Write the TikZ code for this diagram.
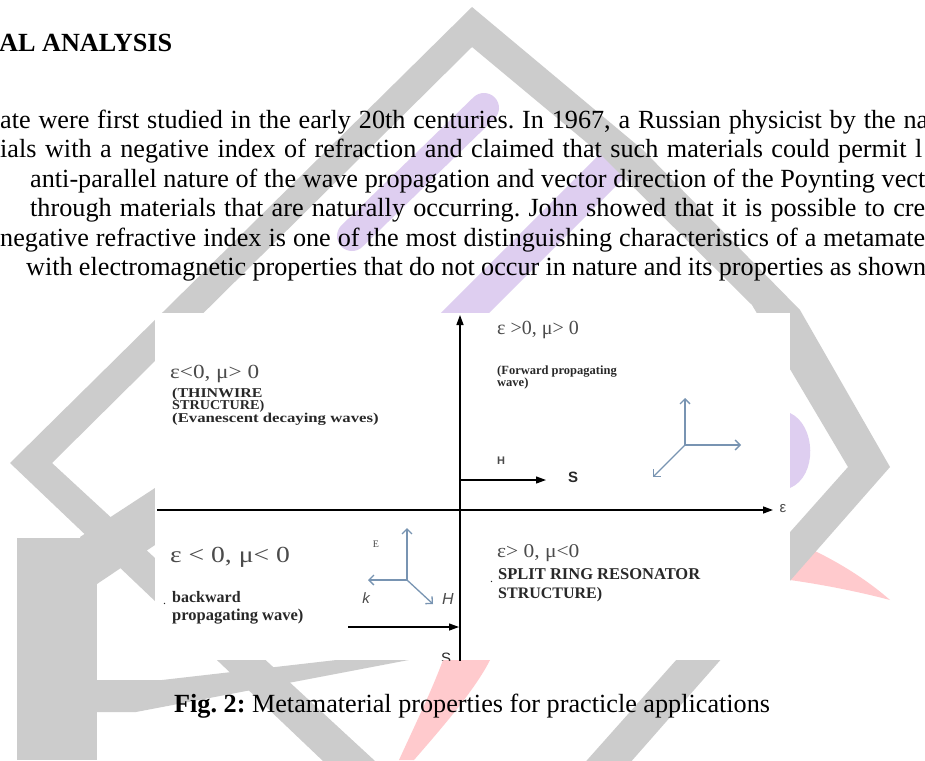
\documentclass[tikz,border=0pt]{standalone}
\usepackage{fontspec}
\setmainfont{Liberation Serif}
\newfontfamily\sansfont{Liberation Sans}
\usetikzlibrary{arrows.meta}
\definecolor{wmgray}{RGB}{204,204,204}
\definecolor{wmpurple}{RGB}{222,206,240}
\definecolor{wmpink}{RGB}{255,202,205}
\definecolor{vecblue}{RGB}{120,148,178}
\definecolor{dgtxt}{RGB}{75,75,75}
\definecolor{bdtxt}{RGB}{40,40,40}
\frenchspacing
\begin{document}
\begin{tikzpicture}[x=1pt,y=-1pt,
  body/.style={anchor=base west, inner sep=0pt, font=\fontsize{26.2}{30}\selectfont},
  lbl/.style={anchor=base west, inner sep=0pt, text=bdtxt},
  eqn/.style={anchor=base west, inner sep=0pt, text=dgtxt},
  axisarrow/.style={line width=1.4pt, -{Triangle[length=10pt,width=7pt]}},
  vecarrow/.style={vecblue, line width=1.3pt, -{Straight Barb[length=5pt,width=10pt]}}]
\useasboundingbox (0,0) rectangle (925,760);
\clip (0,0) rectangle (925,760);
\fill[white] (0,0) rectangle (925,760);

% ---------- watermark ----------
\fill[wmpink] (790,540) .. controls (830,556) and (865,578) .. (890,600)
  .. controls (860,592) and (825,585) .. (790,580) -- cycle;
\fill[wmpink] (443,660) -- (490,660) .. controls (475,690) and (440,730) .. (414,760)
  -- (399,760) .. controls (415,725) and (432,690) .. (443,660) -- cycle;
\draw[wmpurple, line width=30pt, line cap=round] (484,108) -- (352,236);
\draw[wmpurple, line width=34pt, line cap=round] (612,166) -- (450,328);
\fill[wmpurple] (790,413) .. controls (816,425) and (818,476) .. (790,488) -- cycle;
\fill[wmgray, even odd rule]
  (472,7) -- (643,150) -- (800,310) -- (890,467) -- (491,921) -- (10,463) -- cycle
  (472,47) -- (598,152) -- (752,305) -- (848,467) -- (491,868) -- (52,463) -- cycle;
\fill[wmgray] (17,538) rectangle (97,760);
\fill[wmgray] (80,537) -- (155,488) -- (155,545) -- (97,584) -- cycle;
\fill[wmgray] (97,680) -- (162,680) -- (380,655) -- (435,655) -- (136,712) -- (97,712) -- cycle;

% ---------- page text ----------
\node[body, font=\bfseries\fontsize{26.2}{30}\selectfont] (head) at (-1,52) {AL ANALYSIS};
\node[body] (t1) at (0,128) {\hbox to 928pt{ate were first studied in the early 20th centuries. In 1967, a Russian physicist by the na}};
\node[body] (t2) at (0,157.5) {\hbox to 922pt{ials with a negative index of refraction and claimed that such materials could permit l}};
\node[body] (t3) at (30,187) {\hbox to 895pt{anti-parallel nature of the wave propagation and vector direction of the Poynting vect}};
\node[body] (t4) at (30,216.5) {\hbox to 895pt{through materials that are naturally occurring. John showed that it is possible to cre}};
\node[body] (t5) at (0,246) {\hbox to 925pt{negative refractive index is one of the most distinguishing characteristics of a metamate}};
\node[body] (t6) at (26,275.5) {\hbox to 900pt{with electromagnetic properties that do not occur in nature and its properties as shown}};
\node[body] (cap) at (174,712) {\textbf{Fig. 2:} Metamaterial properties for practicle applications};

% ---------- diagram ----------
\fill[white] (155,313) rectangle (790,660);
\begin{scope}
\clip (155,313) rectangle (790,660);
\coordinate (vbot) at (460,662);
\coordinate (vtop) at (460,315);
\coordinate (hl) at (157,510);
\coordinate (hr) at (773,510);
\draw[axisarrow] (vbot) -- (vtop);
\draw[axisarrow] (hl) -- (hr);
\node[anchor=center, inner sep=0pt, text=dgtxt, font=\sansfont\fontsize{15}{15}\selectfont] (epsx) at (783,509) {ε};

% first quadrant
\node[eqn, font=\fontsize{20}{22}\selectfont] (q1a) at (497,334) {ε >0, μ> 0};
\node[lbl, font=\bfseries\fontsize{12.5}{13}\selectfont] (q1b) at (497,374) {(Forward propagating};
\node[lbl, font=\bfseries\fontsize{12.5}{13}\selectfont] (q1c) at (497,386) {wave)};
\coordinate (o1) at (685,445);
\coordinate (o1u) at (685,398);
\coordinate (o1r) at (741,445);
\coordinate (o1d) at (653,477);
\draw[vecarrow] (o1) -- (o1u);
\draw[vecarrow] (o1) -- (o1r);
\draw[vecarrow] (o1) -- (o1d);
\coordinate (hs1) at (460,480);
\coordinate (hs2) at (546,480);
\draw[axisarrow, line width=1.2pt] (hs1) -- (hs2);
\node[anchor=center, inner sep=0pt, text=dgtxt, font=\sansfont\bfseries\fontsize{11}{11}\selectfont] (Htr) at (501,461) {H};
\node[anchor=center, inner sep=0pt, text=bdtxt, font=\sansfont\bfseries\fontsize{15}{15}\selectfont] (Str) at (573,477) {S};

% second quadrant
\node[eqn, font=\fontsize{20}{22}\selectfont] (q2a) at (170,378) {\scalebox{1.16}[1]{ε<0, μ> 0}};
\node[lbl, font=\bfseries\fontsize{13.5}{14}\selectfont] (q2b) at (172,397) {\scalebox{1.18}[1]{(THINWIRE}};
\node[lbl, font=\bfseries\fontsize{13.5}{14}\selectfont] (q2c) at (172,409.5) {\scalebox{1.05}[1]{STRUCTURE)}};
\node[lbl, font=\bfseries\fontsize{13.5}{14}\selectfont] (q2d) at (172,422.5) {\scalebox{1.24}[1]{(Evanescent decaying waves)}};

% third quadrant
\node[eqn, font=\fontsize{23}{24}\selectfont] (q3a) at (170,562) {\scalebox{1.2}[1]{ε < 0, μ< 0}};
\node[lbl, font=\fontsize{12}{12}\selectfont] (dot1) at (163,604) {.};
\node[lbl, font=\bfseries\fontsize{16}{16}\selectfont] (q3b) at (172,602) {backward};
\node[lbl, font=\bfseries\fontsize{16.5}{17}\selectfont] (q3c) at (172,620) {propagating wave)};
\coordinate (o2) at (407,580);
\coordinate (o2u) at (407,528);
\coordinate (o2l) at (368,580);
\coordinate (o2d) at (433,604);
\draw[vecarrow] (o2) -- (o2u);
\draw[vecarrow] (o2) -- (o2l);
\draw[vecarrow] (o2) -- (o2d);
\node[anchor=center, inner sep=0pt, text=dgtxt, font=\fontsize{10}{10}\selectfont] (Ebl) at (376,544) {E};
\node[anchor=center, inner sep=0pt, text=dgtxt, font=\sansfont\itshape\fontsize{15}{15}\selectfont] (kbl) at (366,598) {k};
\node[anchor=center, inner sep=0pt, text=dgtxt, font=\sansfont\itshape\fontsize{16}{16}\selectfont] (Hbl) at (448,599) {H};
\coordinate (sb1) at (348,627);
\coordinate (sb2) at (459,627);
\draw[axisarrow, line width=1.2pt] (sb1) -- (sb2);
\node[anchor=base, inner sep=0pt, text=bdtxt, font=\sansfont\fontsize{15}{15}\selectfont] (Sbl) at (446,663) {S};

% fourth quadrant
\node[eqn, font=\fontsize{19.5}{22}\selectfont] (q4a) at (497,557) {\scalebox{1.1}[1]{ε> 0, μ<0}};
\node[lbl, font=\fontsize{12}{12}\selectfont] (dot2) at (490,582) {.};
\node[lbl, font=\bfseries\fontsize{16.5}{17}\selectfont] (q4b) at (498,579) {SPLIT RING RESONATOR};
\node[lbl, font=\bfseries\fontsize{16}{17}\selectfont] (q4c) at (498,598) {STRUCTURE)};
\end{scope}
\end{tikzpicture}
\end{document}
